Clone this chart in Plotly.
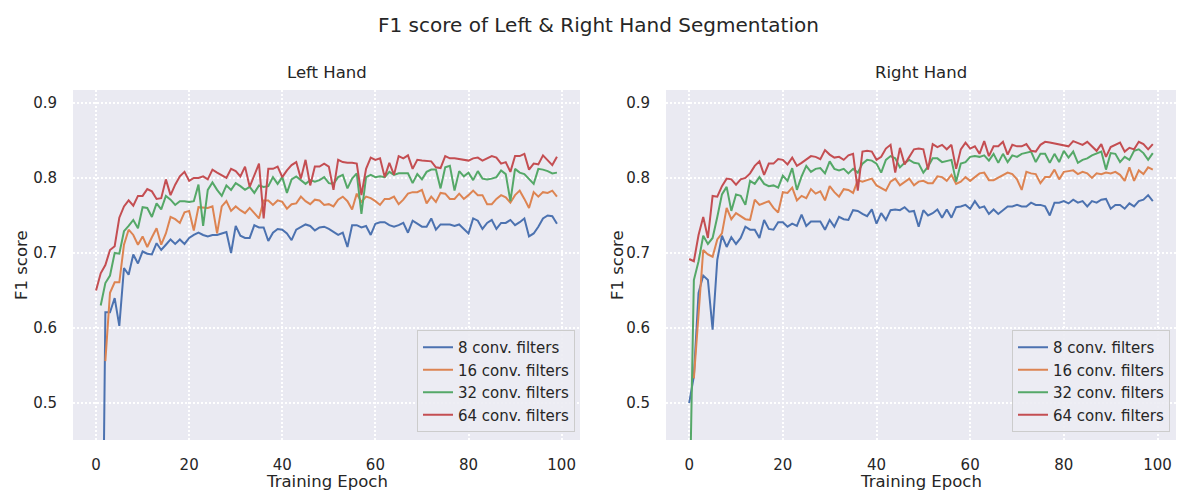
import plotly.graph_objects as go

epochs = list(range(100))
series_names = ["8 conv. filters", "16 conv. filters", "32 conv. filters", "64 conv. filters"]
colors = ["#4C72B0", "#DD8452", "#55A868", "#C44E52"]

left_8 = [None,0.03,0.621,0.621,0.640,0.603,0.680,0.671,0.698,0.686,
 0.702,0.699,0.698,0.713,0.704,0.711,0.718,0.712,0.718,0.712,
 0.720,0.724,0.727,0.724,0.722,0.724,0.724,0.726,0.728,0.700,
 0.736,0.723,0.720,0.720,0.737,0.734,0.734,0.716,0.727,0.732,
 0.731,0.726,0.717,0.731,0.734,0.738,0.736,0.730,0.734,0.735,
 0.732,0.728,0.724,0.727,0.708,0.737,0.737,0.734,0.736,0.724,
 0.739,0.741,0.741,0.737,0.735,0.737,0.740,0.727,0.743,0.739,
 0.735,0.735,0.746,0.731,0.738,0.738,0.738,0.736,0.738,0.732,
 0.726,0.746,0.743,0.732,0.740,0.744,0.732,0.740,0.740,0.744,
 0.737,0.741,0.746,0.722,0.726,0.735,0.746,0.750,0.749,0.739]

left_16 = [None,None,0.556,0.647,0.661,0.661,0.711,0.731,0.724,0.711,
 0.722,0.708,0.721,0.733,0.711,0.726,0.748,0.745,0.740,0.754,
 0.756,0.730,0.761,0.760,0.760,0.762,0.726,0.762,0.769,0.756,
 0.762,0.757,0.753,0.760,0.753,0.746,0.770,0.770,0.764,0.770,
 0.768,0.759,0.765,0.766,0.775,0.769,0.765,0.771,0.770,0.764,
 0.765,0.762,0.771,0.775,0.769,0.758,0.779,0.768,0.775,0.773,
 0.769,0.764,0.772,0.772,0.775,0.765,0.771,0.779,0.781,0.781,
 0.784,0.766,0.775,0.768,0.780,0.779,0.772,0.772,0.779,0.772,
 0.777,0.783,0.777,0.777,0.765,0.765,0.772,0.777,0.774,0.767,
 0.777,0.783,0.772,0.760,0.781,0.775,0.781,0.780,0.783,0.775]

left_32 = [None,0.630,0.660,0.670,0.700,0.699,0.729,0.736,0.744,0.733,
 0.761,0.760,0.748,0.766,0.758,0.776,0.771,0.764,0.769,0.769,
 0.768,0.769,0.791,0.736,0.784,0.794,0.784,0.776,0.790,0.784,
 0.793,0.789,0.784,0.788,0.780,0.790,0.788,0.789,0.801,0.792,
 0.801,0.780,0.798,0.802,0.797,0.792,0.797,0.795,0.797,0.801,
 0.793,0.792,0.801,0.804,0.786,0.799,0.806,0.752,0.801,0.804,
 0.801,0.802,0.801,0.808,0.804,0.806,0.806,0.806,0.793,0.805,
 0.798,0.808,0.811,0.811,0.786,0.814,0.816,0.783,0.809,0.802,
 0.807,0.797,0.809,0.799,0.798,0.799,0.801,0.810,0.805,0.769,
 0.812,0.807,0.805,0.798,0.792,0.812,0.811,0.809,0.806,0.807]

left_64 = [0.650,0.673,0.684,0.704,0.709,0.747,0.762,0.770,0.763,0.776,
 0.776,0.785,0.782,0.772,0.773,0.798,0.777,0.791,0.802,0.808,
 0.796,0.800,0.800,0.802,0.798,0.811,0.807,0.803,0.800,0.812,
 0.809,0.802,0.815,0.788,0.804,0.819,0.746,0.812,0.812,0.815,
 0.801,0.810,0.817,0.821,0.799,0.824,0.790,0.815,0.815,0.819,
 0.815,0.784,0.824,0.821,0.820,0.820,0.819,0.777,0.812,0.827,
 0.824,0.826,0.801,0.820,0.804,0.829,0.826,0.830,0.812,0.824,
 0.823,0.823,0.822,0.814,0.813,0.829,0.826,0.826,0.825,0.824,
 0.823,0.826,0.827,0.823,0.826,0.829,0.827,0.819,0.821,0.808,
 0.829,0.829,0.832,0.811,0.819,0.818,0.830,0.823,0.817,0.828]

right_8 = [0.500,0.536,0.647,0.670,0.664,0.598,0.691,0.723,0.708,0.721,
 0.712,0.720,0.735,0.731,0.731,0.720,0.744,0.732,0.731,0.741,
 0.741,0.735,0.739,0.736,0.751,0.736,0.742,0.742,0.742,0.731,
 0.744,0.735,0.748,0.745,0.744,0.757,0.756,0.752,0.749,0.758,
 0.739,0.753,0.744,0.757,0.758,0.757,0.761,0.755,0.756,0.735,
 0.757,0.750,0.753,0.758,0.747,0.758,0.747,0.761,0.762,0.764,
 0.759,0.769,0.760,0.762,0.752,0.758,0.752,0.757,0.762,0.762,
 0.764,0.762,0.762,0.767,0.764,0.764,0.762,0.750,0.767,0.767,
 0.769,0.766,0.771,0.767,0.769,0.762,0.769,0.767,0.771,0.772,
 0.759,0.764,0.764,0.759,0.766,0.762,0.769,0.771,0.777,0.769]

right_16 = [None,0.533,0.616,0.704,0.698,0.695,0.718,0.726,0.760,0.745,
 0.753,0.749,0.745,0.744,0.771,0.764,0.766,0.769,0.760,0.754,
 0.781,0.780,0.787,0.770,0.776,0.773,0.785,0.779,0.782,0.770,
 0.789,0.781,0.775,0.785,0.784,0.780,0.797,0.795,0.797,0.799,
 0.790,0.787,0.783,0.795,0.799,0.790,0.795,0.799,0.790,0.795,
 0.796,0.793,0.793,0.802,0.801,0.796,0.804,0.792,0.795,0.801,
 0.796,0.801,0.806,0.807,0.797,0.797,0.800,0.804,0.807,0.805,
 0.798,0.784,0.808,0.806,0.805,0.793,0.801,0.801,0.811,0.798,
 0.808,0.809,0.810,0.805,0.808,0.806,0.800,0.806,0.805,0.807,
 0.806,0.808,0.804,0.796,0.814,0.796,0.810,0.805,0.814,0.811]

right_32 = [0.33,0.664,0.689,0.723,0.712,0.720,0.748,0.778,0.788,0.756,
 0.778,0.776,0.764,0.796,0.792,0.801,0.792,0.789,0.790,0.787,
 0.803,0.796,0.813,0.784,0.802,0.816,0.808,0.812,0.813,0.806,
 0.822,0.812,0.810,0.812,0.806,0.812,0.807,0.819,0.824,0.823,
 0.819,0.807,0.824,0.829,0.826,0.814,0.820,0.824,0.820,0.819,
 0.807,0.815,0.826,0.826,0.821,0.823,0.824,0.795,0.819,0.821,
 0.828,0.829,0.828,0.830,0.823,0.832,0.820,0.832,0.821,0.830,
 0.828,0.832,0.834,0.835,0.821,0.832,0.832,0.820,0.832,0.821,
 0.836,0.827,0.835,0.820,0.824,0.826,0.830,0.833,0.835,0.811,
 0.833,0.832,0.821,0.828,0.824,0.836,0.838,0.833,0.824,0.833]

right_64 = [0.692,0.689,0.724,0.748,0.720,0.776,0.775,0.789,0.799,0.798,
 0.791,0.798,0.800,0.806,0.816,0.822,0.804,0.819,0.819,0.825,
 0.824,0.818,0.827,0.816,0.820,0.824,0.829,0.828,0.825,0.837,
 0.831,0.827,0.828,0.824,0.830,0.832,0.783,0.835,0.836,0.835,
 0.824,0.828,0.839,0.844,0.807,0.840,0.818,0.828,0.838,0.839,
 0.838,0.811,0.845,0.841,0.844,0.838,0.844,0.812,0.838,0.847,
 0.839,0.842,0.832,0.849,0.829,0.842,0.842,0.848,0.831,0.844,
 0.842,0.842,0.845,0.836,0.835,0.844,0.848,0.847,0.846,0.844,
 0.844,0.842,0.849,0.846,0.844,0.848,0.842,0.836,0.845,0.828,
 0.841,0.844,0.847,0.835,0.840,0.838,0.848,0.845,0.838,0.845]

x_ticks = [0, 20, 40, 60, 80, 100]
y_ticks = [0.5, 0.6, 0.7, 0.8, 0.9]
y_tick_labels = ["0.5", "0.6", "0.7", "0.8", "0.9"]

W, H = 1184, 493
TXT = "#262626"
FONT = "DejaVu Sans"

fig = go.Figure()
left_data = [left_8, left_16, left_32, left_64]
right_data = [right_8, right_16, right_32, right_64]
for i in range(4):
    fig.add_trace(go.Scatter(x=epochs, y=left_data[i], mode="lines", name=series_names[i],
                             line=dict(color=colors[i], width=2), xaxis="x", yaxis="y",
                             legend="legend"))
for i in range(4):
    fig.add_trace(go.Scatter(x=epochs, y=right_data[i], mode="lines", name=series_names[i],
                             line=dict(color=colors[i], width=2), xaxis="x2", yaxis="y2",
                             legend="legend2"))

px_l = (73, 580)
px_r = (666, 1176)
py_top, py_bot = 90, 440
ydom = [1 - py_bot / H, 1 - py_top / H]

axis_common = dict(showgrid=True, gridcolor="white", griddash="1.6px,2.4px", gridwidth=1.6,
                   zeroline=False, showline=False, ticks="outside",
                   tickcolor="rgba(0,0,0,0)", tickfont=dict(family=FONT, size=15, color=TXT))

legend_common = dict(xanchor="right", yanchor="bottom",
                     bgcolor="rgba(236,236,243,0.9)", bordercolor="#cccccc", borderwidth=1,
                     itemwidth=30, font=dict(family=FONT, size=15, color=TXT))

fig.update_layout(
    width=W, height=H,
    margin=dict(l=0, r=0, t=0, b=0),
    paper_bgcolor="white",
    plot_bgcolor="#EAEAF2",
    font=dict(family=FONT, color=TXT),
    xaxis=dict(domain=[px_l[0] / W, px_l[1] / W], range=[-4.95, 103.95], tickvals=x_ticks,
               ticklen=11, anchor="y", **axis_common),
    yaxis=dict(domain=ydom, range=[0.451, 0.917], tickvals=y_ticks, ticktext=y_tick_labels,
               ticklen=12, anchor="x", **axis_common),
    xaxis2=dict(domain=[px_r[0] / W, px_r[1] / W], range=[-4.95, 103.95], tickvals=x_ticks,
                ticklen=11, anchor="y2", **axis_common),
    yaxis2=dict(domain=ydom, range=[0.451, 0.917], tickvals=y_ticks, ticktext=y_tick_labels,
                ticklen=12, anchor="x2", **axis_common),
    legend=dict(x=575 / W, y=1 - 432 / H, **legend_common),
    legend2=dict(x=1170 / W, y=1 - 432 / H, **legend_common),
)

ann = []
def add_text(text, xpx, ypx, size, angle=0):
    ann.append(dict(text=text, x=xpx / W, y=1 - ypx / H, xref="paper", yref="paper",
                    xanchor="center", yanchor="middle", textangle=angle, showarrow=False,
                    font=dict(size=size, family=FONT, color=TXT)))

add_text("F1 score of Left & Right Hand Segmentation", 598, 25, 20)
for title, (a, b) in [("Left Hand", px_l), ("Right Hand", px_r)]:
    add_text(title, (a + b) / 2, 73, 16.5)
    add_text("Training Epoch", (a + b) / 2, 481, 16.5)
for xc in [21, 617]:
    add_text("F1 score", xc, 265, 16.5, angle=-90)
fig.update_layout(annotations=ann)

fig.write_html("out.html")
